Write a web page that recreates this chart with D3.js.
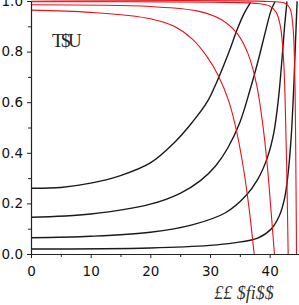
<!DOCTYPE html>
<html><head><meta charset="utf-8">
<script src="https://cdn.jsdelivr.net/npm/d3@7"></script>
<style>body{margin:0;background:#fff}svg{display:block}</style>
</head><body>
<script>
const xTicks = [0, 10, 20, 30, 40];
const xMinor = [5, 15, 25, 35];
const yTicks = [0, 0.2, 0.4, 0.6, 0.8, 1.0];
const yMinor = [0.1, 0.3, 0.5, 0.7, 0.9];
const innerLabel = "T$U";
const xLabel = "££ $fi$$";

const black1 = [[0,0.26],[5,0.263],[10,0.28],[15,0.31],[20,0.36],[24,0.44],[27,0.52],[29.5,0.6],[31.5,0.7],[33.2,0.8],[34.6,0.89],[35.7,0.95],[36.8,0.995]];
const black2 = [[0,0.145],[10,0.158],[20,0.197],[25,0.24],[28.4,0.29],[31,0.35],[33,0.42],[35,0.52],[36.7,0.648],[38.1,0.767],[39.3,0.88],[40.2,0.96],[40.9,0.998]];
const black3 = [[0,0.064],[10,0.07],[20,0.086],[27,0.115],[32.6,0.163],[36,0.23],[38,0.295],[39.6,0.38],[40.7,0.48],[41.5,0.62],[42.1,0.78],[42.5,0.9],[42.9,0.998]];
const black4 = [[0,0.02],[20,0.024],[30,0.034],[34,0.044],[38,0.063],[40.3,0.1],[41.6,0.15],[42.5,0.22],[43.1,0.32],[43.6,0.46],[44.0,0.64],[44.3,0.82],[44.6,0.999]];
const red1 = [[0,0.964],[10,0.955],[20,0.93],[24,0.9],[27,0.85],[29.5,0.78],[31.5,0.7],[33.2,0.6],[34.5,0.48],[35.6,0.34],[36.5,0.19],[37.4,0]];
const red2 = [[0,0.985],[20,0.978],[28,0.96],[32,0.925],[34.6,0.87],[36.4,0.79],[37.8,0.67],[38.8,0.52],[39.6,0.35],[40.2,0.18],[40.8,0]];
const red3 = [[0,0.997],[30,0.995],[38,0.99],[40,0.98],[41.1,0.955],[41.8,0.9],[42.3,0.78],[42.6,0.6],[42.85,0.35],[43.1,0]];
const red4 = [[0,0.999],[40,0.998],[42.5,0.992],[43.4,0.97],[43.9,0.9],[44.2,0.72],[44.35,0.45],[44.5,0]];

const blackSeries = [black1, black2, black3, black4];
const redSeries = [red1, red2, red3, red4];

const W = 299, H = 305;
const svg = d3.select("body").append("svg").attr("width", W).attr("height", H);
const x = d3.scaleLinear().domain([0, 45]).range([31, 299.5]);
const y = d3.scaleLinear().domain([0, 1]).range([254, 1]);

const line = d3.line().x(d => x(d[0])).y(d => y(d[1])).curve(d3.curveCatmullRom.alpha(0.5));

svg.append("defs").append("clipPath").attr("id","clip").append("rect")
  .attr("x", 31).attr("y", 0).attr("width", 268).attr("height", 254);

const g = svg.append("g").attr("clip-path","url(#clip)");
g.selectAll("path.b").data(blackSeries).join("path").attr("class","b")
  .attr("d", line).attr("fill","none").attr("stroke","#1a1a1a").attr("stroke-width",1.4);
g.selectAll("path.r").data(redSeries).join("path").attr("class","r")
  .attr("d", line).attr("fill","none").attr("stroke","#e8121b").attr("stroke-width",1.1);

const font = "DejaVu Sans, sans-serif";
svg.append("g").attr("transform","translate(0,254)")
  .call(d3.axisBottom(x).tickValues(xTicks).tickFormat(d3.format("d")).tickSize(4).tickSizeOuter(0).tickPadding(8));
svg.append("g").attr("transform","translate(0,254)")
  .call(d3.axisBottom(x).tickValues(xMinor).tickFormat("").tickSize(3))
  .select(".domain").remove();
svg.append("g").attr("transform","translate(31,0)")
  .call(d3.axisLeft(y).tickValues(yTicks).tickFormat(d3.format(".1f")).tickSize(4).tickSizeOuter(0).tickPadding(4));
svg.append("g").attr("transform","translate(31,0)")
  .call(d3.axisLeft(y).tickValues(yMinor).tickFormat("").tickSize(3))
  .select(".domain").remove();
svg.selectAll(".tick text").attr("font-family", font).attr("font-size", 13.5).attr("fill","#111");
svg.selectAll(".domain").attr("stroke","#222").attr("stroke-width",1.2);
svg.selectAll(".tick line").attr("stroke","#222");

svg.append("text").attr("x", 52).attr("y", 47)
  .attr("font-family","Liberation Serif, serif").attr("font-size", 19)
  .attr("letter-spacing", -2.5).attr("fill","#222").text(innerLabel);

svg.append("text").attr("x", 244).attr("y", 299).attr("text-anchor","middle")
  .attr("font-family","Liberation Serif, serif").attr("font-style","italic")
  .attr("font-size", 18).attr("fill","#333").text(xLabel);
</script>
</body></html>
